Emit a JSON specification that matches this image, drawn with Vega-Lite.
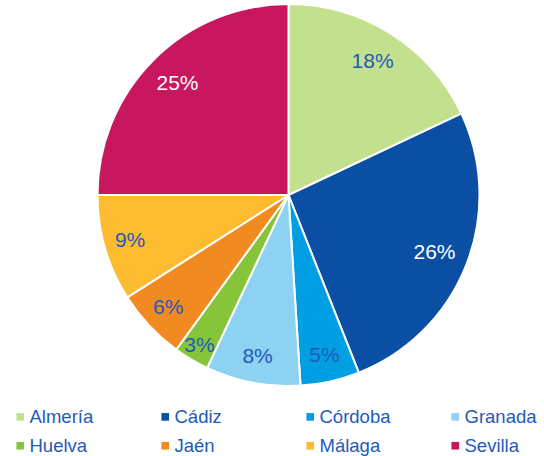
{
  "$schema": "https://vega.github.io/schema/vega-lite/v6.json",
  "autosize": "none",
  "width": 511,
  "height": 390,
  "padding": {"left": 33, "top": 0, "right": 0, "bottom": 66},
  "background": "white",
  "config": {"view": {"stroke": null}, "font": "Liberation Sans"},
  "data": {"values": [
    {"region": "Almería", "value": 0.18, "idx": 1},
    {"region": "Cádiz", "value": 0.26, "idx": 2},
    {"region": "Córdoba", "value": 0.05, "idx": 3},
    {"region": "Granada", "value": 0.08, "idx": 4},
    {"region": "Huelva", "value": 0.03, "idx": 5},
    {"region": "Jaén", "value": 0.06, "idx": 6},
    {"region": "Málaga", "value": 0.09, "idx": 7},
    {"region": "Sevilla", "value": 0.25, "idx": 8}
  ]},
  "encoding": {
    "theta": {"field": "value", "type": "quantitative", "stack": true},
    "order": {"field": "idx", "type": "quantitative"}
  },
  "layer": [
    {
      "mark": {"type": "arc", "outerRadius": 191, "stroke": "white", "strokeWidth": 2},
      "encoding": {
        "color": {
          "field": "region", "type": "nominal",
          "scale": {
            "domain": ["Almería", "Cádiz", "Córdoba", "Granada", "Huelva", "Jaén", "Málaga", "Sevilla"],
            "range": ["#c2e08e", "#0a4fa3", "#009fe3", "#8dd1f3", "#86c53a", "#f18a21", "#fdbb30", "#c8175e"]
          },
          "legend": {
            "title": null,
            "orient": "none",
            "legendX": -22,
            "legendY": 407.5,
            "direction": "horizontal",
            "columns": 4,
            "gridAlign": "all",
            "columnPadding": 54,
            "rowPadding": 10,
            "padding": 0,
            "symbolType": "square",
            "symbolSize": 58,
            "symbolStrokeWidth": 0,
            "labelFont": "Liberation Sans",
            "labelFontSize": 18.5,
            "labelColor": "#1e5bb8",
            "labelOffset": 0,
            "labelLimit": 200
          }
        }
      }
    },
    {
      "mark": {"type": "text", "radius": {"expr": "datum.value >= 0.15 ? 157 : (datum.value < 0.04 ? 175 : 165)"}, "font": "Liberation Sans", "fontSize": 21, "align": "center", "baseline": "middle"},
      "encoding": {
        "text": {"field": "value", "type": "quantitative", "format": ".0%"},
        "color": {
          "condition": {"test": "datum.region === 'Cádiz' || datum.region === 'Sevilla'", "value": "white"},
          "value": "#1e5bb8"
        }
      }
    }
  ]
}
